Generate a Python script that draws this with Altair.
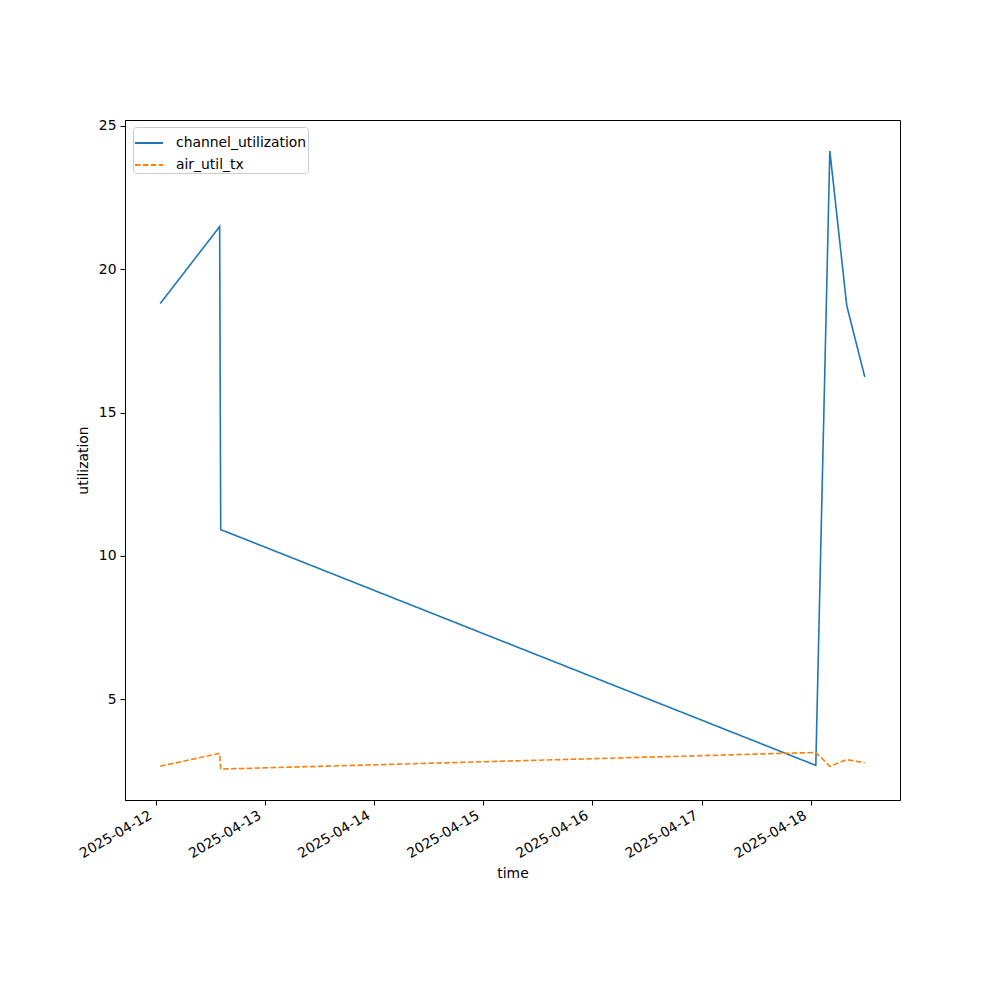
import altair as alt
import pandas as pd

times = ["2025-04-12T00:57:00Z", "2025-04-12T14:01:00Z", "2025-04-12T14:15:00Z",
         "2025-04-18T01:07:00Z", "2025-04-18T04:12:00Z", "2025-04-18T07:55:00Z",
         "2025-04-18T11:53:00Z"]
channel_utilization = [18.80, 21.48, 10.92, 2.70, 24.12, 18.73, 16.24]
air_util_tx = [2.67, 3.12, 2.57, 3.15, 2.67, 2.90, 2.79]
series_names = ["channel_utilization", "air_util_tx"]
tick_dates = ["2025-04-12", "2025-04-13", "2025-04-14", "2025-04-15",
              "2025-04-16", "2025-04-17", "2025-04-18"]
y_ticks = [5, 10, 15, 20, 25]

rows = []
for t, a, b in zip(times, channel_utilization, air_util_tx):
    rows.append({"time": t, "series": series_names[0], "utilization": a})
    rows.append({"time": t, "series": series_names[1], "utilization": b})
df = pd.DataFrame(rows)

# matplotlib-like 5% margins
tt = pd.to_datetime(pd.Series(times), utc=True)
span = tt.max() - tt.min()
xmin = tt.min() - span * 0.05
xmax = tt.max() + span * 0.05
vals = channel_utilization + air_util_tx
vr = max(vals) - min(vals)
ymin = min(vals) - 0.05 * vr
ymax = max(vals) + 0.05 * vr

def ms(ts):
    return int(ts.value // 10**6)

tick_ms = [ms(pd.Timestamp(d, tz="UTC")) for d in tick_dates]

FONT = "DejaVu Sans"
FS = 13.9

leg = dict(title=None, orient="none", legendX=8, legendY=7,
           symbolType="stroke", symbolSize=784, symbolStrokeWidth=1.8,
           strokeColor="#cccccc", fillColor="white", padding=1,
           cornerRadius=3, labelFontSize=FS, labelFont=FONT, labelColor="black",
           rowPadding=-5, labelLimit=300, labelOffset=12)

chart = alt.Chart(df).mark_line(strokeWidth=1.6).encode(
    x=alt.X("time:T",
            scale=alt.Scale(type="utc", domain=[ms(xmin), ms(xmax)], nice=False),
            axis=alt.Axis(title="time", values=tick_ms,
                          labelExpr="utcFormat(datum.value, '%Y-%m-%d')",
                          labelAngle=-30, labelAlign="right", labelBaseline="top",
                          labelOffset=-9,
                          grid=False, tickSize=5, labelPadding=3, titlePadding=6)),
    y=alt.Y("utilization:Q",
            scale=alt.Scale(domain=[ymin, ymax], nice=False, zero=False),
            axis=alt.Axis(title="utilization", values=y_ticks, grid=False, tickSize=5,
                          labelPadding=4, titlePadding=8)),
    color=alt.Color("series:N",
                    scale=alt.Scale(domain=series_names, range=["#1f77b4", "#ff7f0e"]),
                    legend=alt.Legend(**leg)),
    strokeDash=alt.StrokeDash("series:N",
                              scale=alt.Scale(domain=series_names, range=[[1, 0], [5.5, 2.4]]),
                              legend=alt.Legend(**leg)),
).properties(
    width=775, height=680,
    autosize=alt.AutoSizeParams(type="none"),
    padding={"left": 117, "top": 112, "right": 92, "bottom": 180},
).configure_view(
    stroke="black", strokeWidth=1
).configure_axis(
    domainColor="black", tickColor="black", labelColor="black", titleColor="black",
    labelFont=FONT, titleFont=FONT, labelFontSize=FS, titleFontSize=FS,
    titleFontWeight="normal"
)

chart.save("out.html", embed_options={"renderer": "svg", "actions": False})
